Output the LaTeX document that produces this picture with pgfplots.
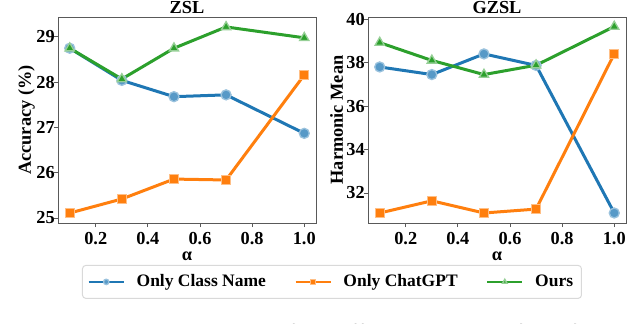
\documentclass[border=0pt]{standalone}
\usepackage{pgfplots}
\pgfplotsset{compat=1.18}
\usepackage{fontspec}
\setmainfont{Liberation Serif}

\definecolor{c1}{HTML}{1F77B4}
\definecolor{c2}{HTML}{FF7F0E}
\definecolor{c3}{HTML}{2CA02C}

% ZSL accuracy
\pgfplotstableread{
a    name   gpt    ours
0.1  28.75  25.11  28.75
0.3  28.04  25.42  28.07
0.5  27.68  25.86  28.75
0.7  27.72  25.84  29.22
1.0  26.87  28.16  28.98
}\zsl
% GZSL harmonic mean
\pgfplotstableread{
a    name   gpt    ours
0.1  37.80  31.08  38.92
0.3  37.45  31.64  38.10
0.5  38.40  31.08  37.45
0.7  37.87  31.26  37.88
1.0  31.08  38.40  39.66
}\gzsl

\pgfplotsset{
  panel/.style={
    scale only axis, width=154.8pt, height=123.6pt,
    xmin=0.055, xmax=1.045,
    xtick={0.2,0.4,0.6,0.8,1.0},
    xticklabel style={inner ysep=2pt, /pgf/number format/.cd, fixed, fixed zerofill, precision=1},
    /pgf/number format/assume math mode=true,
    tick label style={font=\bfseries\fontsize{11}{12}\selectfont},
    yticklabel style={inner xsep=0pt, xshift=1.5pt},
    label style={font=\bfseries\fontsize{11}{12}\selectfont},
    ylabel style={at={(axis description cs:-0.122,0.5)}, anchor=center},
    title style={font=\bfseries\fontsize{11}{12}\selectfont, anchor=base, yshift=-4pt},
    xlabel={α}, xlabel shift=-2pt,
    tick align=outside, major tick length=2.5pt,
    xtick pos=bottom, ytick pos=left,
    axis line style={black!65, line width=0.5pt},
    every tick/.style={black!65, line width=0.5pt},
    line width=1.8pt,
    mark size=3pt,
  },
  sname/.style={c1, mark=*, mark options={fill=c1!75, draw=c1!45, line width=0.8pt}},
  sgpt/.style={c2, mark=square*, mark size=2.7pt, mark options={fill=c2, draw=c2!50, line width=0.8pt}},
  sours/.style={c3, mark=triangle*, mark size=3.2pt, mark options={fill=c3, draw=c3!50, line width=0.8pt}},
}

\begin{document}
\begin{tikzpicture}
\useasboundingbox (0,0) rectangle (384pt,194.4pt);

\begin{axis}[panel, at={(34.8pt,60.6pt)}, anchor=south west,
    title={ZSL}, ylabel={Accuracy (\%)},
    ymin=24.89, ymax=29.44, ytick={25,26,27,28,29},
    legend columns=3,
    legend style={at={(1.062,-0.286)}, anchor=center,
      draw=black!15, rounded corners=2pt, line width=0.6pt,
      font=\bfseries\fontsize{10.5}{12}\selectfont,
      inner xsep=3pt, inner ysep=3.5pt,
      /tikz/every odd column/.append style={column sep=5pt},
      /tikz/every even column/.append style={column sep=15pt}},
    legend image code/.code={\draw[mark repeat=2, mark phase=2, #1] plot coordinates {(0pt,0pt) (10.5pt,0pt) (21pt,0pt)};},
    legend image post style={mark size=1.6pt, line width=1.5pt},
  ]
  \addplot+[sname] table[x=a, y=name] {\zsl};
  \addlegendentry{Only Class Name}
  \addplot+[sgpt] table[x=a, y=gpt] {\zsl};
  \addlegendentry{Only ChatGPT}
  \addplot+[sours] table[x=a, y=ours] {\zsl};
  \addlegendentry{Ours}
\end{axis}

\begin{axis}[panel, at={(220.8pt,60.6pt)}, anchor=south west,
    title={GZSL}, ylabel={Harmonic Mean},
    ymin=30.62, ymax=40.1, ytick={32,34,36,38,40},
  ]
  \addplot+[sname] table[x=a, y=name] {\gzsl};
  \addplot+[sgpt] table[x=a, y=gpt] {\gzsl};
  \addplot+[sours] table[x=a, y=ours] {\gzsl};
\end{axis}

\node[anchor=base west, inner sep=0pt] at (1.5pt,-10pt)
  {\fontsize{13.8}{16}\selectfont\hbox to 383pt{Fig.~4: ZSL and GZSL for different values of α for TE}};
\end{tikzpicture}
\end{document}
